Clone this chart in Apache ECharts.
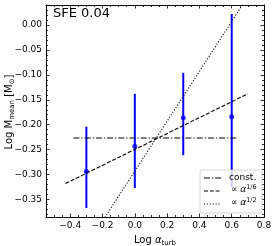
<!DOCTYPE html>
<html><head><meta charset="utf-8">
<script src="https://cdn.jsdelivr.net/npm/echarts@6/dist/echarts.min.js"></script>
<style>html,body{margin:0;padding:0;background:#fff}#c{width:274px;height:246px}</style>
</head><body><div id="c"></div>
<script>
// data
const xPoints = [-0.3, 0.0, 0.3, 0.6];
const meanVals = [-0.294, -0.243, -0.186, -0.184];
const errHigh = [-0.204, -0.138, -0.096, 0.022];
const errLow = [-0.367, -0.327, -0.261, -0.325];
const constLine = [[-0.38, -0.2265], [0.64, -0.2265]];
const sixthLine = [[-0.43, -0.318], [0.70, -0.138]];
const halfLine = [[-0.43, -0.508], [0.70, 0.057]];
// ticks
const xTicks = [-0.4, -0.2, 0.0, 0.2, 0.4, 0.6, 0.8];
const yTicks = [-0.35, -0.30, -0.25, -0.20, -0.15, -0.10, -0.05, 0.00];
const xMinor = [-0.55,-0.5,-0.45,-0.35,-0.3,-0.25,-0.15,-0.1,-0.05,0.05,0.1,0.15,0.25,0.3,0.35,0.45,0.5,0.55,0.65,0.7,0.75];
const yMinor = [-0.38,-0.37,-0.36,-0.34,-0.33,-0.32,-0.31,-0.29,-0.28,-0.27,-0.26,-0.24,-0.23,-0.22,-0.21,-0.19,-0.18,-0.17,-0.16,-0.14,-0.13,-0.12,-0.11,-0.09,-0.08,-0.07,-0.06,-0.04,-0.03,-0.02,-0.01,0.01,0.02,0.03];
const X_MIN = -0.55, X_MAX = 0.8, Y_MIN = -0.385, Y_MAX = 0.04;

const FONT = 'DejaVu Sans';
const fmt = d => v => (v < -1e-9 ? '\u2212' : '') + Math.abs(v).toFixed(d);

function axisX(position, ticks, len, label) {
  return {
    type: 'value', position, min: X_MIN, max: X_MAX,
    axisLine: { show: true, onZero: false, lineStyle: { color: '#000', width: 0.8 } },
    axisTick: { show: true, inside: true, length: len, customValues: ticks, lineStyle: { color: '#000', width: 0.8 } },
    axisLabel: label ? { show: true, customValues: ticks, formatter: fmt(1), color: '#000', fontFamily: FONT, fontSize: 9, margin: 4 } : { show: false },
    splitLine: { show: false }
  };
}
function axisY(position, ticks, len, label) {
  return {
    type: 'value', position, min: Y_MIN, max: Y_MAX,
    axisLine: { show: true, onZero: false, lineStyle: { color: '#000', width: 0.8 } },
    axisTick: { show: true, inside: true, length: len, customValues: ticks, lineStyle: { color: '#000', width: 0.8 } },
    axisLabel: label ? { show: true, customValues: ticks, formatter: fmt(2), color: '#000', fontFamily: FONT, fontSize: 9, margin: 4 } : { show: false },
    splitLine: { show: false }
  };
}

const xa0 = axisX('bottom', xTicks, 3.5, true);
xa0.name = '{n|Log }{a|\u03b1}{s|turb}';
xa0.nameLocation = 'middle';
xa0.nameGap = 17;
xa0.nameTextStyle = { rich: {
  n: { fontFamily: FONT, fontSize: 10, color: '#000', lineHeight: 13 },
  a: { fontFamily: FONT, fontSize: 10, fontStyle: 'italic', color: '#000', lineHeight: 13 },
  s: { fontFamily: FONT, fontSize: 7, color: '#000', lineHeight: 6, verticalAlign: 'bottom' }
} };
const ya0 = axisY('left', yTicks, 3.5, true);

const lineBase = (data, dash) => ({
  type: 'line', data, showSymbol: false, symbol: 'none', clip: true, z: 3,
  xAxisIndex: 0, yAxisIndex: 0,
  lineStyle: { color: '#000', width: 1.1, type: dash }
});

const chart = echarts.init(document.getElementById('c'), null, { renderer: 'canvas' });
chart.setOption({
  animation: false,
  backgroundColor: '#fff',
  grid: { left: 46, right: 10, top: 5, bottom: 29, containLabel: false, outerBoundsMode: 'none' },
  xAxis: [xa0, axisX('bottom', xMinor, 2, false), axisX('top', xTicks, 3.5, false), axisX('top', xMinor, 2, false)],
  yAxis: [ya0, axisY('left', yMinor, 2, false), axisY('right', yTicks, 3.5, false), axisY('right', yMinor, 2, false)],
  series: [
    {
      type: 'custom', xAxisIndex: 0, yAxisIndex: 0, clip: true, z: 2,
      data: xPoints.map((x, i) => [x, errLow[i], errHigh[i]]),
      renderItem: (params, api) => {
        const x = api.value(0);
        const p1 = api.coord([x, api.value(1)]);
        const p2 = api.coord([x, api.value(2)]);
        return { type: 'line', shape: { x1: p1[0], y1: p1[1], x2: p2[0], y2: p2[1] }, style: { stroke: '#0000ff', lineWidth: 2 } };
      }
    },
    {
      type: 'scatter', xAxisIndex: 0, yAxisIndex: 0, z: 2,
      data: xPoints.map((x, i) => [x, meanVals[i]]),
      symbol: 'circle', symbolSize: 5, itemStyle: { color: '#0000ff' }
    },
    lineBase(constLine, [6, 2, 1.2, 2]),
    lineBase(sixthLine, [4, 1.8]),
    lineBase(halfLine, [1.1, 1.8])
  ],
  graphic: [
    { type: 'text', x: 9, y: 112, rotation: Math.PI / 2, z: 5, style: {
      text: '{n|Log M}{s|mean}{n| [M}{s|\u2299}{n|]}', align: 'center', verticalAlign: 'middle', rich: {
        n: { fontFamily: FONT, fontSize: 10, fill: '#000', lineHeight: 13 },
        s: { fontFamily: FONT, fontSize: 7, fill: '#000', lineHeight: 6, verticalAlign: 'bottom' } } } },
    { type: 'text', left: 53, top: 7, style: { text: 'SFE 0.04', fontFamily: FONT, fontSize: 13, fill: '#000' } },
    { type: 'rect', shape: { x: 200, y: 170, width: 62, height: 43, r: 2 }, style: { fill: 'rgba(255,255,255,0.8)', stroke: '#cccccc', lineWidth: 0.8 }, z: 10 },
    { type: 'line', shape: { x1: 204, y1: 178, x2: 221, y2: 178 }, style: { stroke: '#000', lineWidth: 1.1, lineDash: [6, 2, 1.2, 2] }, z: 11 },
    { type: 'line', shape: { x1: 204, y1: 191, x2: 221, y2: 191 }, style: { stroke: '#000', lineWidth: 1.1, lineDash: [4, 1.8] }, z: 11 },
    { type: 'line', shape: { x1: 204, y1: 204, x2: 221, y2: 204 }, style: { stroke: '#000', lineWidth: 1.1, lineDash: [1.1, 1.8] }, z: 11 },
    { type: 'text', x: 229, y: 178, z: 11, style: { text: 'const.', fontFamily: FONT, fontSize: 9, fill: '#000', verticalAlign: 'middle' } },
    { type: 'text', x: 231, y: 190, z: 11, style: { text: '{n|\u221d }{a|\u03b1}{p|1/6}', verticalAlign: 'middle', rich: {
      n: { fontFamily: FONT, fontSize: 9, fill: '#000', lineHeight: 12 },
      a: { fontFamily: FONT, fontSize: 9, fontStyle: 'italic', fill: '#000', lineHeight: 12 },
      p: { fontFamily: FONT, fontSize: 6.5, fill: '#000', lineHeight: 6, verticalAlign: 'top' } } } },
    { type: 'text', x: 231, y: 203, z: 11, style: { text: '{n|\u221d }{a|\u03b1}{p|1/2}', verticalAlign: 'middle', rich: {
      n: { fontFamily: FONT, fontSize: 9, fill: '#000', lineHeight: 12 },
      a: { fontFamily: FONT, fontSize: 9, fontStyle: 'italic', fill: '#000', lineHeight: 12 },
      p: { fontFamily: FONT, fontSize: 6.5, fill: '#000', lineHeight: 6, verticalAlign: 'top' } } } }
  ]
});
</script></body></html>
